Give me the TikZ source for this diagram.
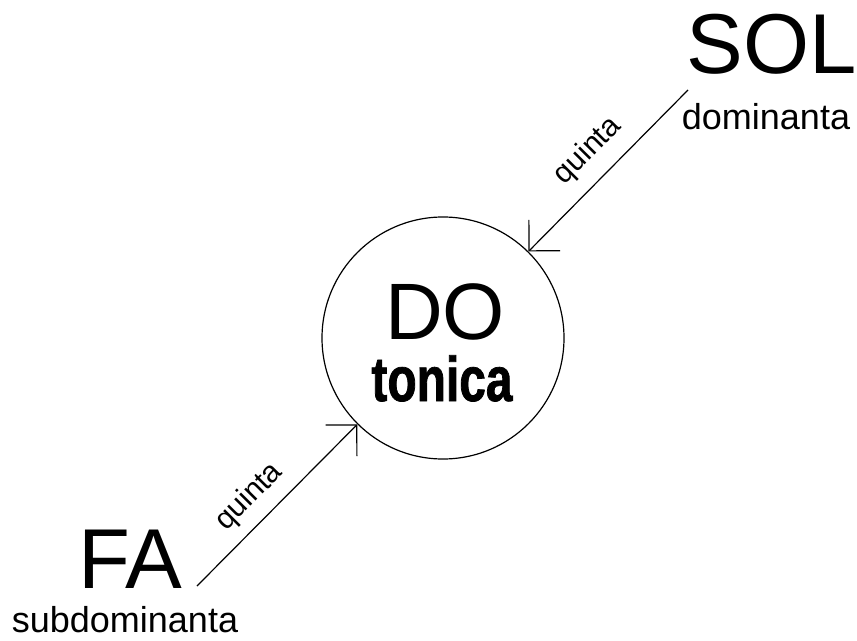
\documentclass[tikz,border=0pt]{standalone}
\usepackage{fontspec}
\setmainfont{Liberation Sans}
\newfontfamily\tonfont{Liberation Sans}[FakeStretch=0.76, FakeBold=1.2]
\usetikzlibrary{arrows.meta, positioning}

\begin{document}
\begin{tikzpicture}[x=1bp, y=-1bp, line width=1.2bp, inner sep=0pt,
    big/.style={font=\fontsize{85bp}{85bp}\selectfont, anchor=base},
    role/.style={font=\fontsize{36bp}{36bp}\selectfont, anchor=base},
    interval/.style={font=\fontsize{30bp}{30bp}\selectfont, sloped},
    quint/.style={-{Straight Barb[length=22bp, width=44bp]}}]
  \useasboundingbox (0,0) rectangle (857,641);

  \node[draw, circle, minimum size=242bp] (do) at (443,338) {};
  \node[font=\fontsize{80bp}{80bp}\selectfont, anchor=base] (dotext) at (445,339) {DO};
  \node[font=\fontsize{63bp}{63bp}\tonfont\bfseries, anchor=base] (ton) at (442,401) {tonica};

  \node[big] (sol) at (772,74) {SOL};
  \node[role] (dom) at (766,130) {dominanta};
  \node[big] (fa) at (130,588) {FA};
  \node[role] (sub) at (125,632) {subdominanta};

  \coordinate (solend) at (688,90);
  \coordinate (faend) at (197,586);

  \draw[quint] (solend) -- node[interval, pos=0.5, above=13.6bp] {quinta} (do);
  \draw[quint] (faend) -- node[interval, pos=0.44, above=11bp] {quinta} (do);
\end{tikzpicture}
\end{document}
